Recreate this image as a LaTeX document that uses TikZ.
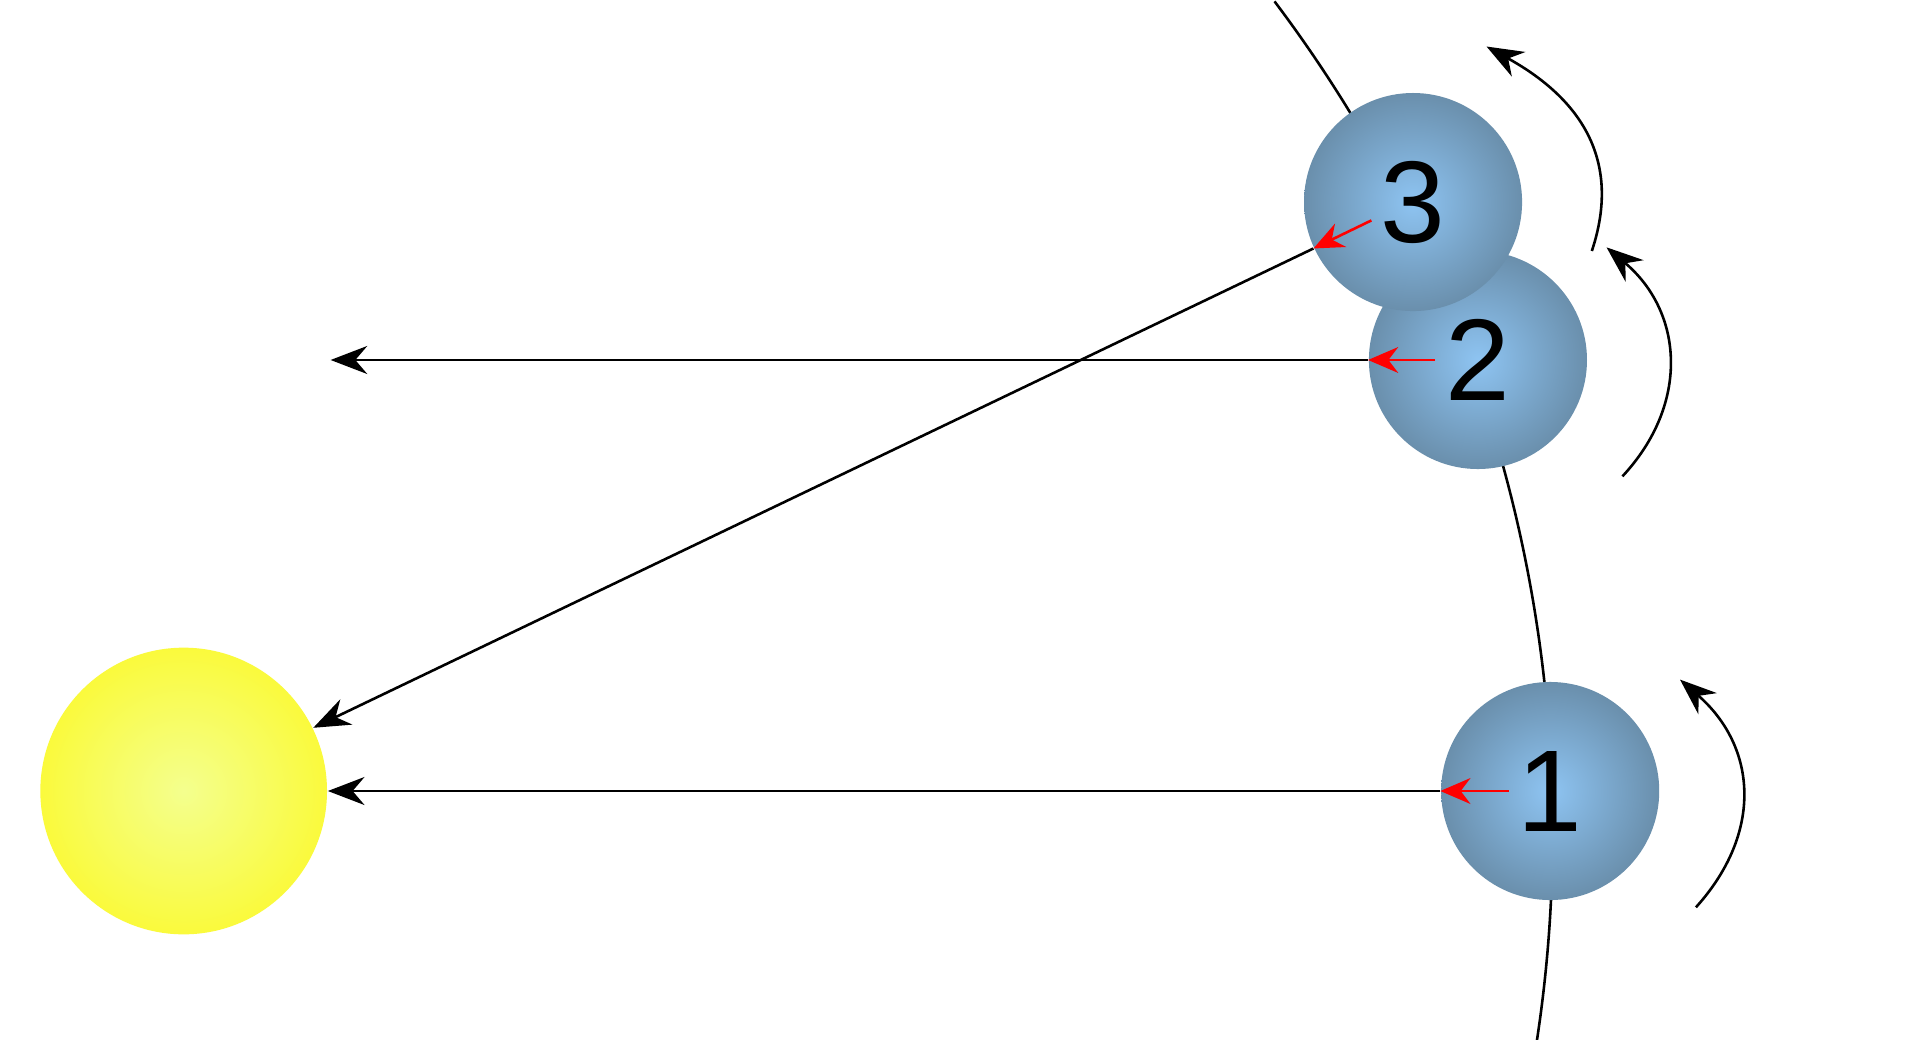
\documentclass[tikz,border=0pt]{standalone}
\usepackage{fontspec}
\setmainfont{Liberation Sans}
\usetikzlibrary{arrows.meta}
\definecolor{pin}{HTML}{8EC4F2}
\definecolor{pout}{HTML}{6A8FAC}
\definecolor{sin}{HTML}{F4FF8E}
\definecolor{sout}{HTML}{FAFA3C}
\begin{document}
\begin{tikzpicture}[x=0.01cm,y=-0.01cm,
  planet/.style={circle,minimum size=1.78cm,inner sep=0pt,inner color=pin,outer color=pout,font=\fontsize{27}{30}\selectfont},
  ray/.style={line width=0.6pt,-{Stealth[length=8.5pt,width=6.5pt]}},
  redarr/.style={red,line width=0.6pt,-{Stealth[length=7pt,width=6pt]}},
  turn/.style={line width=0.6pt,-{Stealth[length=8.5pt,width=6.5pt]}}]
\useasboundingbox (0,0) rectangle (1568,849);
\fill[white] (0,0) rectangle (1568,849);
\draw[line width=0.6pt] (140,680) ++(-37:1128) arc[start angle=-37,end angle=9,radius=1128];
\node[circle,minimum size=2.34cm,inner sep=0pt,inner color=sin,outer color=sout] (sun) at (150,646) {};
\node[planet] (p1) at (1266,646) {1};
\node[planet] (p2) at (1207,294) {2};
\node[planet] (p3) at (1154,165) {3};
\coordinate (e2) at (270,294);
\coordinate (r1) at (1232,646);
\coordinate (r2) at (1172,294);
\coordinate (r3) at (1120,180);
\draw[ray] (p1.west) -- (sun.east);
\draw[ray] (p2.west) -- (e2);
\draw[ray] (p3.205) -- (sun.26);
\draw[redarr] (r1) -- (p1.west);
\draw[redarr] (r2) -- (p2.west);
\draw[redarr] (r3) -- (p3.205);
\coordinate (a1s) at (1385,741); \coordinate (a1e) at (1372,555);
\coordinate (a2s) at (1325,389); \coordinate (a2e) at (1312,202);
\coordinate (a3s) at (1300,205); \coordinate (a3e) at (1214,38);
\draw[turn] (a1s) .. controls (1440,680) and (1435,610) .. (a1e);
\draw[turn] (a2s) .. controls (1380,330) and (1375,255) .. (a2e);
\draw[turn] (a3s) .. controls (1325,130) and (1290,80) .. (a3e);
\end{tikzpicture}
\end{document}
